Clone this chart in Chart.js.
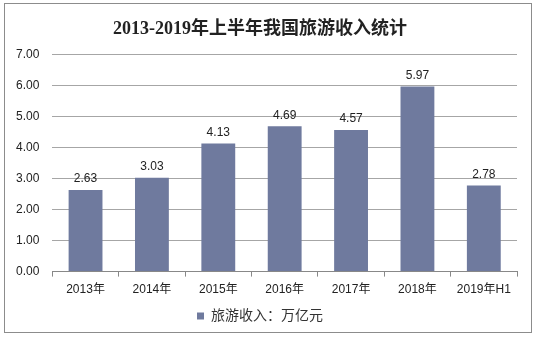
<!DOCTYPE html>
<html>
<head>
<meta charset="utf-8">
<script src="https://cdn.jsdelivr.net/npm/chart.js@4.4.1/dist/chart.umd.min.js"></script>
<style>
  html, body { margin: 0; padding: 0; background: #fff; }
  #wrap { position: relative; width: 535px; height: 337px; }
  #frame { position: absolute; left: 4px; top: 3px; width: 526px; height: 328px; border: 1px solid #8c8c8c; pointer-events: none; }
  canvas { position: absolute; left: 0; top: 0; }
</style>
</head>
<body>
<div id="wrap">
  <canvas id="grafico" width="535" height="337"></canvas>
  <div id="frame"></div>
</div>
<script>
// dados
const anos = ['2013年', '2014年', '2015年', '2016年', '2017年', '2018年', '2019年H1'];
const receita = [2.63, 3.03, 4.13, 4.69, 4.57, 5.97, 2.78];
const ticksY = [0, 1, 2, 3, 4, 5, 6, 7];
const titulo = '2013-2019年上半年我国旅游收入统计';
const legenda = '旅游收入：万亿元';

const corBarra = '#6f7a9e';
const fonteTexto = '"Liberation Sans", Arial, "Noto Sans CJK SC", sans-serif';

// rótulos de valor acima das barras
const rotulos = {
  id: 'rotulos',
  afterDatasetsDraw(chart) {
    const c = chart.ctx;
    const meta = chart.getDatasetMeta(0);
    c.save();
    c.font = '12px ' + fonteTexto;
    c.fillStyle = '#222';
    c.textAlign = 'center';
    c.textBaseline = 'bottom';
    meta.data.forEach((bar, i) => {
      c.fillText(receita[i].toFixed(2), bar.x, bar.y - 5);
    });
    c.restore();
  }
};

const ctx = document.getElementById('grafico').getContext('2d');
new Chart(ctx, {
  type: 'bar',
  data: {
    labels: anos,
    datasets: [{
      label: legenda,
      data: receita,
      backgroundColor: corBarra,
      barPercentage: 0.51,
      categoryPercentage: 1
    }]
  },
  options: {
    responsive: false,
    animation: false,
    layout: { padding: { left: 3, right: 18, top: 11, bottom: 4 } },
    plugins: {
      title: {
        display: true,
        text: titulo,
        color: '#222',
        font: { family: '"Liberation Serif", "Noto Sans CJK SC", serif', size: 18, weight: 'bold' },
        padding: { top: 8, bottom: 14 }
      },
      legend: {
        position: 'bottom',
        labels: {
          boxWidth: 7,
          boxHeight: 7,
          color: '#333',
          font: { family: fonteTexto, size: 14 },
          padding: 6
        }
      },
      tooltip: { enabled: false }
    },
    scales: {
      x: {
        grid: { display: true, drawOnChartArea: false, color: '#888', tickLength: 5, offset: true },
        border: { color: '#888' },
        ticks: { color: '#222', font: { family: fonteTexto, size: 12 }, padding: 6 }
      },
      y: {
        min: 0,
        max: 7,
        afterBuildTicks(axis) { axis.ticks = ticksY.map(v => ({ value: v })); },
        grid: { color: '#a6a6a6', drawTicks: false },
        border: { display: false },
        ticks: {
          color: '#222',
          font: { family: fonteTexto, size: 12 },
          padding: 13,
          callback: v => v.toFixed(2)
        }
      }
    }
  },
  plugins: [rotulos]
});
</script>
</body>
</html>
